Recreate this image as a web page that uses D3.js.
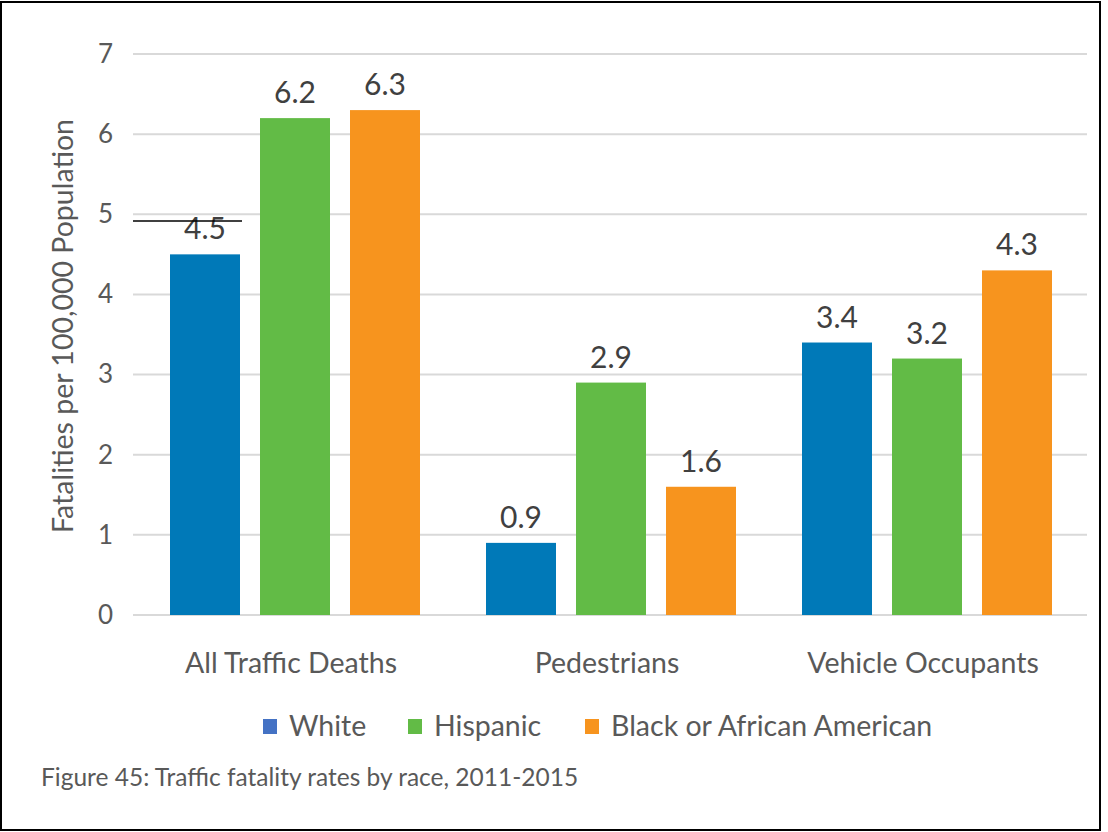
<!DOCTYPE html>
<html><head><meta charset="utf-8">
<script src="https://cdn.jsdelivr.net/npm/d3@7"></script>
<style>
html,body{margin:0;padding:0;background:#fff;}
svg{display:block;font-family:Lato,"Open Sans",sans-serif;}
</style></head>
<body>
<svg id="chart" width="1108" height="832"></svg>
<script>
const categories = ["All Traffic Deaths", "Pedestrians", "Vehicle Occupants"];
const seriesNames = ["White", "Hispanic", "Black or African American"];
const whiteValues = [4.5, 0.9, 3.4];
const hispanicValues = [6.2, 2.9, 3.2];
const blackValues = [6.3, 1.6, 4.3];
const yTicks = [0, 1, 2, 3, 4, 5, 6, 7];
const barColors = ["#0079B8", "#62BB46", "#F7941E"];
const legendColors = ["#4472C4", "#62BB46", "#F7941E"];
const yTitle = "Fatalities per 100,000 Population";
const caption = "Figure 45: Traffic fatality rates by race, 2011-2015";

const seriesValues = [whiteValues, hispanicValues, blackValues];
const svg = d3.select("#chart");
const textColor = "#595959";

// frame
svg.append("rect").attr("x", 1).attr("y", 2).attr("width", 1099).attr("height", 828)
  .attr("fill", "#fff").attr("stroke", "#000").attr("stroke-width", 2);

const y = d3.scaleLinear().domain([0, 7]).range([615, 54]);
const x0 = d3.scaleBand().domain(categories).range([136, 1084]).padding(0);
const x1 = d3.scaleBand().domain(seriesNames).range([34, 284]).paddingInner(20/90).paddingOuter(0);

// gridlines
svg.append("g").selectAll("line").data(yTicks).join("line")
  .attr("x1", 133).attr("x2", 1087)
  .attr("y1", d => y(d)).attr("y2", d => y(d))
  .attr("stroke", "#d9d9d9").attr("stroke-width", 2);

// y axis labels
const yAxis = d3.axisLeft(y).tickValues(yTicks).tickSize(0).tickPadding(0).tickFormat(d3.format("d"));
const ya = svg.append("g").attr("transform", "translate(113,0)").call(yAxis);
ya.select(".domain").remove();
ya.selectAll("text").attr("font-size", 26).attr("fill", textColor).attr("font-family", "Lato");

// x axis labels
const xAxis = d3.axisBottom(x0).tickSize(0).tickPadding(0);
const xa = svg.append("g").attr("transform", "translate(-3,653)").call(xAxis);
xa.select(".domain").remove();
xa.selectAll("text").attr("font-size", 28.5).attr("fill", textColor).attr("font-family", "Lato");

// bars
const rows = categories.map((c, i) => ({cat: c, vals: seriesNames.map((s, j) => ({s, j, v: seriesValues[j][i]}))}));
const groups = svg.append("g").selectAll("g").data(rows).join("g")
  .attr("transform", d => `translate(${x0(d.cat)},0)`);
groups.selectAll("rect").data(d => d.vals).join("rect")
  .attr("x", d => x1(d.s)).attr("width", x1.bandwidth())
  .attr("y", d => y(d.v)).attr("height", d => y(0) - y(d.v))
  .attr("fill", d => barColors[d.j]);
groups.selectAll("text").data(d => d.vals).join("text")
  .attr("x", d => x1(d.s) + x1.bandwidth()/2)
  .attr("y", d => y(d.v) - 15)
  .attr("text-anchor", "middle")
  .attr("font-size", 30).attr("fill", "#404040")
  .text(d => d3.format(".1f")(d.v));

// stray line across first label
svg.append("line").attr("x1", 133).attr("x2", 242).attr("y1", 221).attr("y2", 221)
  .attr("stroke", "#000").attr("stroke-width", 1.3);

// y title
svg.append("text").attr("transform", "translate(73,326) rotate(-90)")
  .attr("text-anchor", "middle").attr("font-size", 28.5).attr("fill", textColor)
  .text(yTitle);

// legend
const legendX = [263, 408, 585];
const lg = svg.append("g").selectAll("g").data(seriesNames).join("g")
  .attr("transform", (d, i) => `translate(${legendX[i]},719)`);
lg.append("rect").attr("width", 14).attr("height", 15).attr("fill", (d, i) => legendColors[i]);
lg.append("text").attr("x", 26).attr("y", 17).attr("font-size", 28.5).attr("fill", textColor).text(d => d);

// caption
svg.append("text").attr("x", 41).attr("y", 786).attr("font-size", 24.5).attr("fill", textColor).text(caption);
</script>
</body></html>
